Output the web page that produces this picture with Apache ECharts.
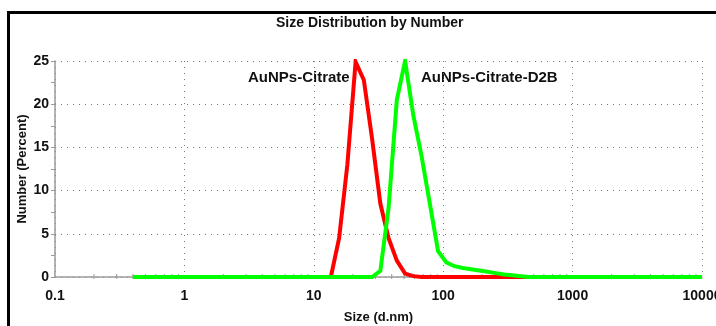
<!DOCTYPE html>
<html>
<head>
<meta charset="utf-8">
<script src="https://cdn.jsdelivr.net/npm/echarts@6/dist/echarts.min.js"></script>
<style>html,body{margin:0;padding:0;background:#fff;overflow:hidden;}#c{width:716px;height:326px;}</style>
</head>
<body>
<div id="c"></div>
<script>
// Malvern size classes (d.nm)
const sizeBins = [0.4, 0.4632, 0.5365, 0.6213, 0.7195, 0.8332, 0.9649, 1.117, 1.294, 1.499,
  1.736, 2.010, 2.328, 2.696, 3.122, 3.615, 4.187, 4.849, 5.615, 6.503,
  7.531, 8.721, 10.10, 11.70, 13.54, 15.69, 18.17, 21.04, 24.36, 28.21,
  32.67, 37.84, 43.82, 50.75, 58.77, 68.06, 78.82, 91.28, 105.7, 122.4,
  141.8, 164.2, 190.1, 220.2, 255.0, 295.3, 342.0, 396.1, 458.7, 531.2,
  615.1, 712.4, 825.0, 955.4, 1106, 1281, 1484, 1718, 1990, 2305,
  2669, 3091, 3580, 4145, 4801, 5560, 6439, 7456, 8635, 10000];

// AuNPs-Citrate: bins 13.54 .. 458.7
const citrateSizes = sizeBins.slice(24, 49);
const citrateValues = [0, 4.5, 13, 24.9, 22.8, 16, 8.5, 4.5, 1.9, 0.4, 0.1, 0, 0, 0, 0,
  0, 0, 0, 0, 0, 0, 0, 0, 0, 0];

// AuNPs-Citrate-D2B: all bins
const d2bSizes = sizeBins;
const d2bValues = [0, 0, 0, 0, 0, 0, 0, 0, 0, 0,
  0, 0, 0, 0, 0, 0, 0, 0, 0, 0,
  0, 0, 0, 0, 0, 0, 0, 0, 0, 0,
  0.7, 8, 20.5, 25.0, 18.7, 14, 8.5, 3, 1.7, 1.25,
  1.05, 0.9, 0.75, 0.6, 0.45, 0.3, 0.2, 0.1, 0, 0,
  0, 0, 0, 0, 0, 0, 0, 0, 0, 0,
  0, 0, 0, 0, 0, 0, 0, 0, 0, 0];

const xTicks = [0.1, 1, 10, 100, 1000, 10000];
const yTicks = [0, 5, 10, 15, 20, 25];
const minorMultipliers = [2, 3, 4, 5, 6, 7, 8, 9];

const titleText = 'Size Distribution by Number';
const xName = 'Size (d.nm)';
const yName = 'Number (Percent)';
const seriesNames = ['AuNPs-Citrate', 'AuNPs-Citrate-D2B'];

const minorTickValues = [];
for (let i = 0; i < xTicks.length - 1; i++) {
  minorMultipliers.forEach(m => minorTickValues.push([xTicks[i] * m, 0]));
}

const chart = echarts.init(document.getElementById('c'), null, {renderer: 'canvas'});
const axisGray = '#9a9a9a';
const boldFont = 'Liberation Sans, Arial, sans-serif';

chart.setOption({
  animation: false,
  title: {
    text: titleText, left: 271, top: 11,
    textStyle: {fontFamily: 'Liberation Sans Narrow, Arial Narrow, sans-serif', fontSize: 14, fontWeight: 'bold', color: '#111'}
  },
  grid: {left: 55, right: 14, top: 61, bottom: 49, containLabel: false, outerBoundsMode: 'none'},
  xAxis: {
    type: 'log', logBase: 10, min: xTicks[0], max: xTicks[xTicks.length - 1],
    name: xName, nameLocation: 'middle', nameGap: 34, nameMoveOverlap: false,
    nameTextStyle: {fontFamily: boldFont, fontSize: 13, fontWeight: 'bold', color: '#111'},
    axisLine: {lineStyle: {color: axisGray, width: 1.5}},
    axisTick: {show: false},
    axisLabel: {fontFamily: boldFont, fontSize: 14, fontWeight: 'bold', color: '#111', margin: 12,
      hideOverlap: false, formatter: v => String(v)},
    splitLine: {show: true, lineStyle: {color: '#7a7a7a', type: [1, 5], width: 1}}
  },
  yAxis: {
    type: 'value', min: 0, max: 25, interval: 5,
    name: yName, nameLocation: 'middle', nameGap: 26, nameRotate: 90, nameMoveOverlap: false,
    nameTextStyle: {fontFamily: boldFont, fontSize: 13, fontWeight: 'bold', color: '#111'},
    axisLine: {show: true, lineStyle: {color: axisGray, width: 1.5}},
    axisTick: {show: true, length: 4, lineStyle: {color: axisGray}},
    minorTick: {show: true, splitNumber: 2, length: 4, lineStyle: {color: axisGray}},
    axisLabel: {fontFamily: boldFont, fontSize: 14, fontWeight: 'bold', color: '#111', margin: 6},
    splitLine: {show: true, lineStyle: {color: '#7a7a7a', type: [1, 5], width: 1}}
  },
  graphic: [
    {type: 'rect', shape: {x: 7, y: 11, width: 3, height: 320}, style: {fill: '#000'}},
    {type: 'rect', shape: {x: 7, y: 11, width: 720, height: 3}, style: {fill: '#000'}},
    {type: 'text', left: 248, top: 70, style: {text: seriesNames[0], font: 'bold 15px Liberation Sans, Arial, sans-serif', fill: '#111'}},
    {type: 'text', left: 421, top: 70, style: {text: seriesNames[1], font: 'bold 15px Liberation Sans, Arial, sans-serif', fill: '#111'}}
  ],
  series: [
    {
      type: 'custom', silent: true, z: 1,
      data: minorTickValues,
      renderItem: (params, api) => {
        const p = api.coord([api.value(0), api.value(1)]);
        return {type: 'line', shape: {x1: p[0], y1: p[1] - 3, x2: p[0], y2: p[1] + 2},
          style: {stroke: axisGray, lineWidth: 1}};
      }
    },
    {
      name: seriesNames[0], type: 'line', z: 3, symbol: 'none',
      data: citrateSizes.map((s, i) => [s, citrateValues[i]]),
      lineStyle: {color: '#ff0000', width: 4, join: 'miter'}
    },
    {
      name: seriesNames[1], type: 'line', z: 4, symbol: 'none',
      data: d2bSizes.map((s, i) => [s, d2bValues[i]]),
      lineStyle: {color: '#00ff00', width: 4, join: 'miter'}
    }
  ]
});
</script>
</body>
</html>
